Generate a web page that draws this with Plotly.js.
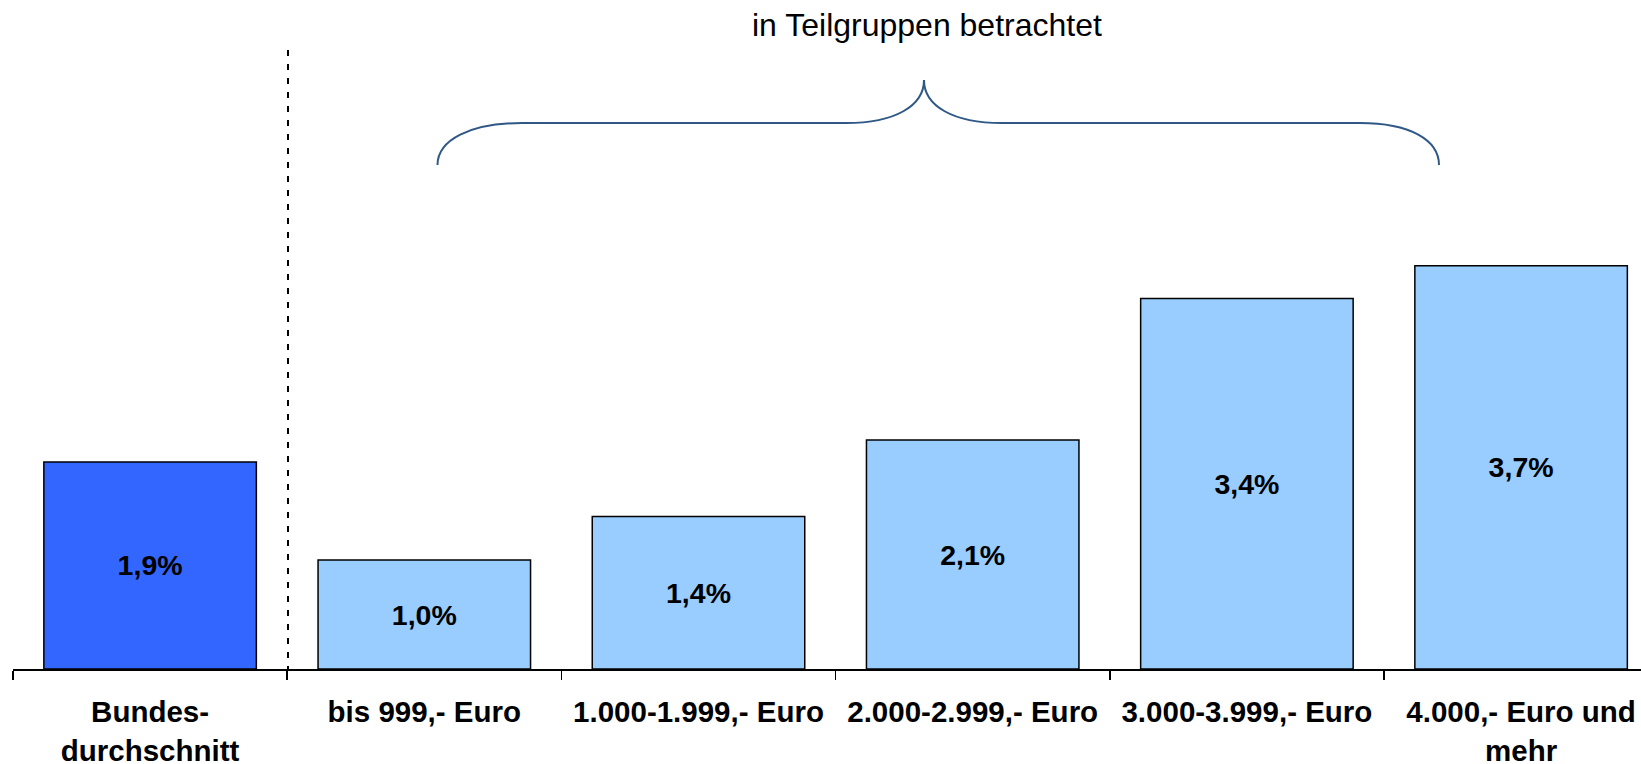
<!DOCTYPE html>
<html>
<head>
<meta charset="utf-8">
<script src="https://cdn.plot.ly/plotly-3.0.1.min.js"></script>
<style>
html,body{margin:0;padding:0;background:#fff;}
#chart{width:1641px;height:764px;}
</style>
</head>
<body>
<div id="chart"></div>
<script>
// ---- data ----
const categories = [
  "Bundes-<br>durchschnitt",
  "bis 999,- Euro",
  "1.000-1.999,- Euro",
  "2.000-2.999,- Euro",
  "3.000-3.999,- Euro",
  "4.000,- Euro und<br>mehr"
];
const values = [1.9, 1.0, 1.4, 2.1, 3.4, 3.7];
const barColors = ["#3366FF", "#99CCFF", "#99CCFF", "#99CCFF", "#99CCFF", "#99CCFF"];
const groupTitle = "in Teilgruppen betrachtet";

// ---- layout geometry (pixels) ----
const W = 1641, H = 764;
const mL = 13, mR = 0, mT = 0, mB = 95;
const plotW = W - mL - mR, plotH = H - mT - mB;
const catPx = 274.2;      // pixels per category
const pxPerUnit = 109;    // pixels per percentage point

const px = x => (x - mL) / plotW;           // pixel -> paper x
const py = y => (mT + plotH - y) / plotH;   // pixel -> paper y
const P = (x, y) => px(x).toFixed(5) + "," + py(y).toFixed(5);

const bracePath =
  "M " + P(437.5,165) +
  " C " + P(437.5,140) + " " + P(470,123) + " " + P(522,123) +
  " L " + P(846,123) +
  " C " + P(895,123) + " " + P(924,106) + " " + P(924,80) +
  " C " + P(924,106) + " " + P(953,123) + " " + P(1002,123) +
  " L " + P(1360,123) +
  " C " + P(1410,123) + " " + P(1439,140) + " " + P(1439,165);

const trace = {
  type: "bar",
  x: categories,
  y: values,
  width: 0.775,
  marker: { color: barColors, line: { color: "#000000", width: 1.5 } },
  texttemplate: "%{y:.1f}%",
  textposition: "inside",
  insidetextanchor: "middle",
  textangle: 0,
  textfont: { family: "Liberation Sans, Arial, sans-serif", size: 28.5, color: "#000000", weight: "bold" },
  hoverinfo: "skip"
};

const layout = {
  width: W, height: H,
  margin: { l: mL, r: mR, t: mT, b: mB, pad: 0 },
  paper_bgcolor: "#ffffff",
  plot_bgcolor: "#ffffff",
  separators: ",.",
  showlegend: false,
  bargap: 0.225,
  xaxis: {
    type: "category",
    range: [-0.5, -0.5 + plotW / catPx],
    tickson: "boundaries",
    ticks: "outside",
    ticklen: 9,
    tickwidth: 1.5,
    tickcolor: "#000000",
    ticklabelstandoff: 16,
    showline: true,
    linecolor: "#000000",
    linewidth: 2,
    showgrid: false,
    zeroline: false,
    tickfont: { family: "Liberation Sans, Arial, sans-serif", size: 29.5, color: "#000000", weight: "bold" },
    fixedrange: true
  },
  yaxis: {
    range: [0, plotH / pxPerUnit],
    visible: false,
    showgrid: false,
    zeroline: false,
    fixedrange: true
  },
  annotations: [{
    xref: "paper", yref: "paper",
    x: px(927), y: py(25),
    xanchor: "center", yanchor: "middle",
    text: groupTitle,
    showarrow: false,
    font: { family: "Liberation Sans, Arial, sans-serif", size: 32, color: "#000000" }
  }],
  shapes: [
    {
      type: "line", xref: "paper", yref: "paper",
      x0: px(288), x1: px(288), y0: py(50), y1: py(669),
      line: { color: "#000000", width: 2, dash: "6px,8px" }
    },
    {
      type: "path", xref: "paper", yref: "paper",
      path: bracePath,
      line: { color: "#2F5887", width: 2 }
    }
  ]
};

Plotly.newPlot("chart", [trace], layout, { displayModeBar: false, staticPlot: true });
</script>
</body>
</html>
